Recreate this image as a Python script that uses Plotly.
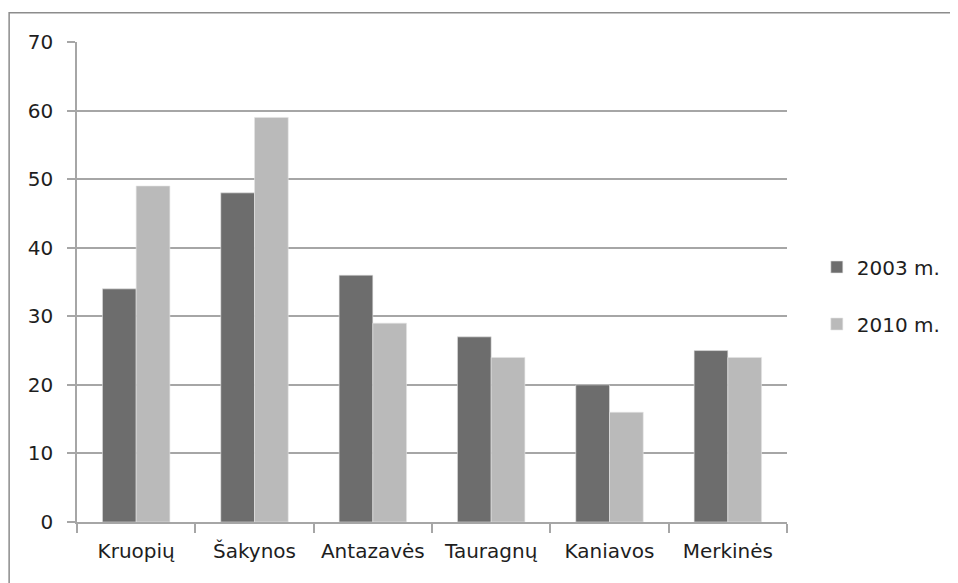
import plotly.graph_objects as go

categories = ["Kruopių", "Šakynos", "Antazavės", "Tauragnų", "Kaniavos", "Merkinės"]
values_2003 = [34, 48, 36, 27, 20, 25]
values_2010 = [49, 59, 29, 24, 16, 24]
series_names = ["2003 m.", "2010 m."]
y_ticks = [0, 10, 20, 30, 40, 50, 60, 70]

FONT = "DejaVu Sans, Liberation Sans, Arial"
FS = 20
DARK = "#6d6d6d"
LIGHT = "#bababa"
GRID = "#a6a6a6"
TXT = "#1e1e1e"

fig = go.Figure()
fig.add_trace(go.Bar(x=categories, y=values_2003, name=series_names[0],
                     marker=dict(color=DARK, line=dict(color="#e4e4e4", width=0.6)),
                     legend="legend", showlegend=True))
fig.add_trace(go.Bar(x=categories, y=values_2010, name=series_names[1],
                     marker=dict(color=LIGHT, line=dict(color="#e4e4e4", width=0.6)),
                     legend="legend2", showlegend=True))

# page body has an 8px margin, so figure coords = screen coords - 8
W, H = 950, 575
L, R, T, B = 69, 167, 34, 61
pw, ph = W - L - R, H - T - B

def px(x):
    return (x - 8 - L) / pw

def py(y):
    return (H - B - (y - 8)) / ph

fig.update_layout(
    width=W, height=H,
    margin=dict(l=L, r=R, t=T, b=B),
    paper_bgcolor="white", plot_bgcolor="white",
    font=dict(family=FONT, size=FS, color=TXT),
    showlegend=True,
    barmode="group", bargap=0.43, bargroupgap=0,
    legend=dict(x=px(821), y=py(267), xanchor="left", yanchor="middle",
                font=dict(size=FS, family=FONT, color=TXT), bgcolor="rgba(0,0,0,0)"),
    legend2=dict(x=px(821), y=py(324), xanchor="left", yanchor="middle",
                 font=dict(size=FS, family=FONT, color=TXT), bgcolor="rgba(0,0,0,0)"),
    xaxis=dict(showline=True, linecolor=GRID, linewidth=1.5, ticks="outside",
               tickson="boundaries", ticklen=9, tickcolor=GRID, tickwidth=1.5,
               showgrid=False, tickfont=dict(size=FS, color=TXT), ticklabelstandoff=10),
    yaxis=dict(range=[0, 70], tickvals=y_ticks, showline=True, linecolor=GRID,
               linewidth=1.5, ticks="outside", ticklen=8, tickcolor=GRID, tickwidth=1.5,
               showgrid=True, gridcolor=GRID, gridwidth=1.5, zeroline=False,
               tickfont=dict(size=FS, color=TXT), ticklabelstandoff=10),
    shapes=[dict(type="rect", xref="paper", yref="paper",
                 x0=px(8.75), x1=px(990), y0=py(620), y1=py(12.75),
                 line=dict(color="#8c8c8c", width=1.5), fillcolor="rgba(0,0,0,0)",
                 layer="above")],
)

fig.write_html("out.html")
